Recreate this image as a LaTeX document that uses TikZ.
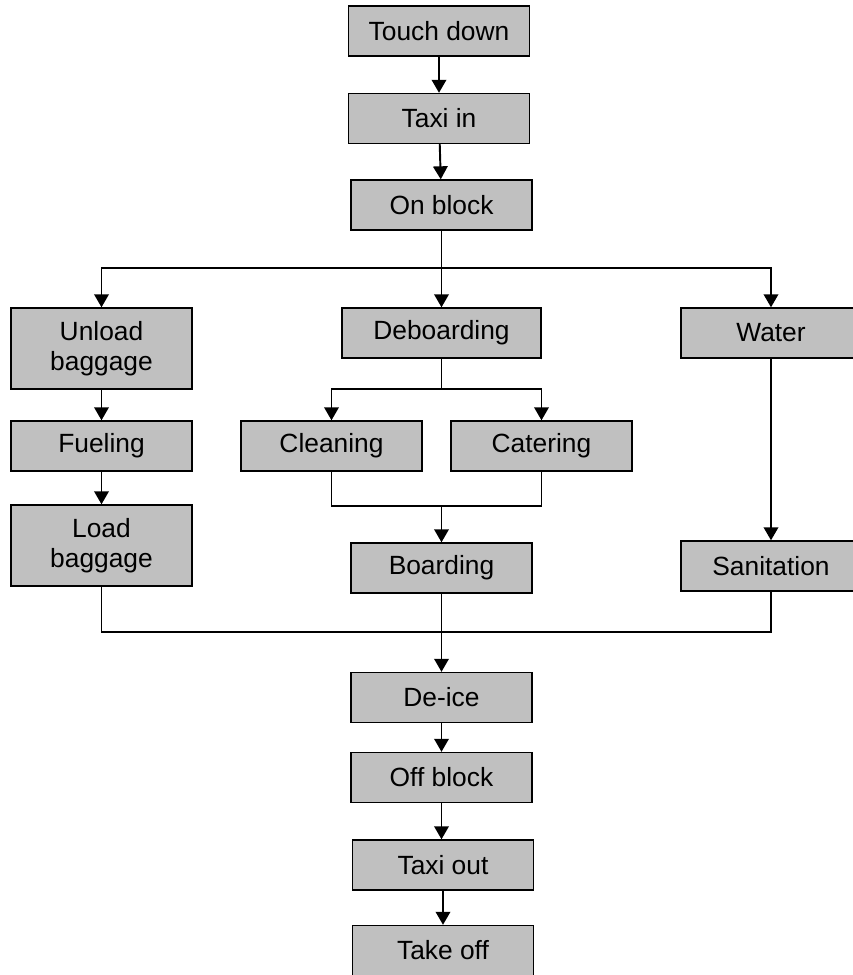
\documentclass[tikz,border=0pt]{standalone}
\usepackage{fontspec}
\setmainfont{Liberation Sans}
\usepackage{tikz}
\usetikzlibrary{positioning,arrows.meta,calc}
\definecolor{boxfill}{HTML}{C0C0C0}
\tikzset{
  box/.style={rectangle, draw=black, fill=boxfill, line width=0.8pt,
              minimum width=3.62cm, minimum height=1cm, align=center,
              inner sep=2pt, font=\fontsize{15}{17}\selectfont},
  tallbox/.style={box, minimum height=1.62cm},
  link/.style={line width=1.1pt, draw=black},
  flow/.style={link, -{Triangle[length=2.6mm, width=2.9mm]}}
}

\begin{document}
\begin{tikzpicture}[x=0.02cm, y=-0.02cm]
\useasboundingbox (0,0) rectangle (853,975);
% main line
\node[box] (td) at (439,31) {Touch down};
\node[box] (ti) at (439,118.5) {Taxi in};
\node[box] (ob) at (441.5,205) {On block};
% three branches
\node[tallbox] (ub) at (101.5,348.5) {Unload\\baggage};
\node[box, minimum width=3.98cm] (db) at (441.5,333) {Deboarding};
\node[box, minimum width=3.6cm] (wa) at (771,333) {Water};
\node[box] (fu) at (101.5,446) {Fueling};
\node[box] (cl) at (331.5,446) {Cleaning};
\node[box] (ca) at (541.5,446) {Catering};
\node[tallbox] (lb) at (101.5,545.5) {Load\\baggage};
\node[box] (bo) at (441.5,568) {Boarding};
\node[box, minimum width=3.6cm] (sa) at (771,566) {Sanitation};
% after the join
\node[box] (di) at (441.5,697.5) {De-ice};
\node[box] (of) at (441.5,777.5) {Off block};
\node[box] (to) at (443,865) {Taxi out};
\node[box] (tk) at (443,950.5) {Take off};
\coordinate (split1) at (441.5,268);
\coordinate (split2) at (441.5,389);
\coordinate (join1) at (441.5,506);
\coordinate (join2) at (441.5,632);

\draw[flow] (td)--(ti); \draw[flow] (ti)--(ob);
\draw[link] (ob)--(split1);
\draw[flow] (split1) -| (ub); \draw[flow] (split1)--(db); \draw[flow] (split1) -| (wa);
\draw[flow] (ub)--(fu); \draw[flow] (fu)--(lb); \draw[flow] (wa)--(sa);
\draw[link] (db)--(split2);
\draw[flow] (split2) -| (cl); \draw[flow] (split2) -| (ca);
\draw[link] (cl.south) |- (join1) -| (ca.south);
\draw[flow] (join1)--(bo);
\draw[link] (lb.south) |- (join2) -| (sa.south);
\draw[link] (bo.south)--(join2);
\draw[flow] (join2)--(di);
\draw[flow] (di)--(of); \draw[flow] (of.south)--(to.north -| of.south); \draw[flow] (to)--(tk);
\end{tikzpicture}
\end{document}
